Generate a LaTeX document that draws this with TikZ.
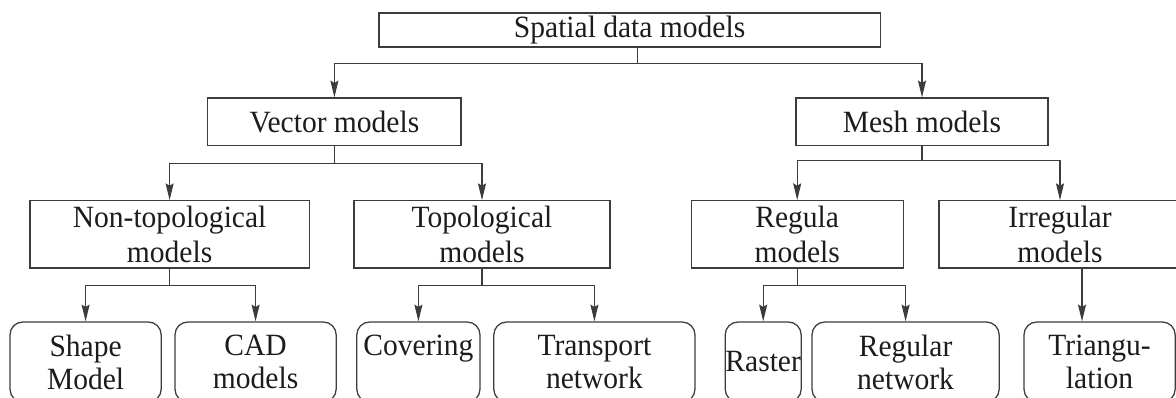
\documentclass[tikz,border=0pt]{standalone}
\usepackage{fontspec}
\setmainfont{Liberation Serif}[FakeStretch=0.955]
\usetikzlibrary{arrows.meta, positioning, calc}
\definecolor{cline}{HTML}{3C3C3C}
\definecolor{ctext}{HTML}{1C1C1C}
\tikzset{
  every picture/.style={font=\fontsize{22}{25}\selectfont, line width=0.9pt},
  box/.style={draw=cline, align=center, inner sep=0pt, text=ctext, minimum width=#1},
  leaf/.style={box=#1, rounded corners=3.2mm, minimum height=2cm, font=\fontsize{22}{23.5}\selectfont},
  arrow/.style={-{Stealth[length=4.2mm, width=2mm, inset=0.6mm]}, draw=cline},
  link/.style={draw=cline},
}

\begin{document}
\begin{tikzpicture}[
  rootbox/.style={box=#1, minimum height=0.85cm},
  midbox/.style={box=#1, minimum height=1.18cm},
  lowbox/.style={box=#1, minimum height=1.68cm}]
  \useasboundingbox (0,0) rectangle (29.4,-9.925);
  \node[rootbox=12.53cm] (sdm) at (15.74,-0.75) {Spatial data models};
  \node[midbox=6.33cm] (vec) at (8.36,-3.04) {Vector models};
  \node[midbox=6.3cm] (mesh) at (23.05,-3.04) {Mesh models};
  \node[lowbox=6.98cm] (ntop) at (4.24,-5.86) {Non-topological\\models};
  \node[lowbox=6.4cm] (topo) at (12.05,-5.86) {Topological\\models};
  \node[lowbox=5.3cm] (regm) at (19.93,-5.86) {Regula\\models};
  \node[lowbox=6.05cm] (irrm) at (26.5,-5.86) {Irregular\\models};
  \node[leaf=3.78cm] (shape) at (2.14,-9.05) {Shape\\Model};
  \node[leaf=4.03cm] (cad) at (6.39,-9.05) {CAD\\models};
  \node[leaf=3.08cm] (cover) at (10.46,-9.05) {Covering\\\mbox{}};
  \node[leaf=5.03cm] (trans) at (14.86,-9.05) {Transport\\network};
  \node[leaf=1.9cm] (raster) at (19.08,-9.05) {Raster};
  \node[leaf=4.68cm] (regnet) at (22.64,-9.05) {Regular\\network};
  \node[leaf=3.78cm] (tri) at (27.49,-9.05) {Triangu-\\lation};

  % first split
  \draw[link] ([xshift=1.9mm]sdm.south) -- ++(0,-0.4) coordinate (b0);
  \draw[arrow] (b0) -| (vec.north);
  \draw[arrow] (b0) -| (mesh.north);
  % vector side
  \draw[link] (vec.south) -- ++(0,-0.45) coordinate (b1);
  \draw[arrow] (b1) -| (ntop.north);
  \draw[arrow] (b1) -| (topo.north);
  \draw[link] (ntop.south) -- ++(0,-0.425) coordinate (b3);
  \draw[arrow] (b3) -| (shape.north);
  \draw[arrow] (b3) -| (cad.north);
  \draw[link] (topo.south) -- ++(0,-0.425) coordinate (b4);
  \draw[arrow] (b4) -| (cover.north);
  \draw[arrow] (b4) -| (trans.north);
  % mesh side
  \draw[link] (mesh.south) -- ++(0,-0.375) coordinate (b2);
  \draw[arrow] (b2) -| (regm.north);
  \draw[arrow] (b2) -| (irrm.north);
  \draw[link] (regm.south) -- ++(0,-0.425) coordinate (b5);
  \draw[arrow] (b5) -| (raster.north);
  \draw[arrow] (b5) -| (regnet.north);
  \draw[arrow] ([xshift=5.5mm]irrm.south) -- ([xshift=5.5mm]irrm.south |- tri.north);
\end{tikzpicture}
\end{document}
